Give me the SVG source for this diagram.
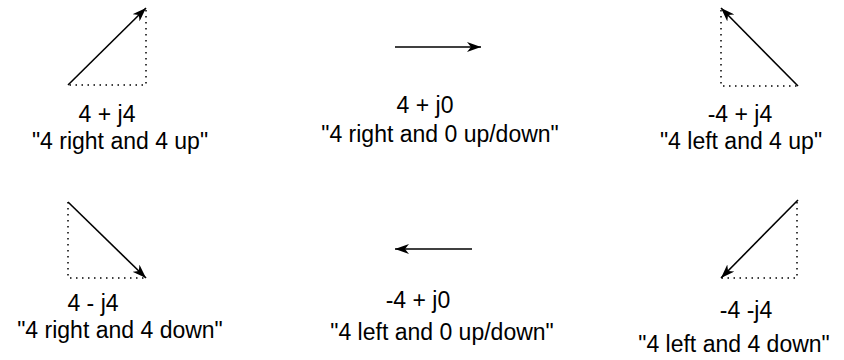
<svg xmlns="http://www.w3.org/2000/svg" width="844" height="360" viewBox="0 0 844 360">
<style>
.v{stroke:#000;stroke-width:1.6;fill:none}
.d{stroke:#000;stroke-width:1.5;fill:none;stroke-dasharray:1.5 4.5}
text{font-family:"Liberation Sans",Arial,sans-serif;font-size:23px;fill:#000;text-anchor:middle}
</style>
<defs>
<marker id="ah" viewBox="0 0 14 10" refX="14" refY="5" markerWidth="14" markerHeight="10" markerUnits="userSpaceOnUse" orient="auto">
<path d="M0,0 L14,5 L0,10 L4,5 Z" fill="#000"/>
</marker>
</defs>
<g id="connectors">
<line class="v" x1="68" y1="85" x2="146" y2="8" marker-end="url(#ah)"/>
<line class="v" x1="395" y1="47" x2="481" y2="47" marker-end="url(#ah)"/>
<line class="v" x1="798" y1="86" x2="721" y2="8" marker-end="url(#ah)"/>
<line class="v" x1="68" y1="202" x2="146" y2="278" marker-end="url(#ah)"/>
<line class="v" x1="472" y1="249" x2="395" y2="249" marker-end="url(#ah)"/>
<line class="v" x1="798" y1="200" x2="721" y2="278" marker-end="url(#ah)"/>
</g>
<g id="n1">
<path class="d" d="M146,10 V85 H68"/>
<text x="107" y="122">4 + j4</text>
<text x="120" y="149">"4 right and 4 up"</text>
</g>
<g id="n2">
<text x="425" y="113">4 + j0</text>
<text x="440" y="142">"4 right and 0 up/down"</text>
</g>
<g id="n3">
<path class="d" d="M721,10 V86 H798"/>
<text x="740" y="122">-4 + j4</text>
<text x="741" y="149">"4 left and 4 up"</text>
</g>
<g id="n4">
<path class="d" d="M68,202 V278 H146"/>
<text x="93" y="311">4 - j4</text>
<text x="120" y="338">"4 right and 4 down"</text>
</g>
<g id="n5">
<text x="418" y="308">-4 + j0</text>
<text x="442" y="340">"4 left and 0 up/down"</text>
</g>
<g id="n6">
<path class="d" d="M797,202 V278 H721"/>
<text x="746" y="318">-4 -j4</text>
<text x="734" y="352">"4 left and 4 down"</text>
</g>
</svg>
